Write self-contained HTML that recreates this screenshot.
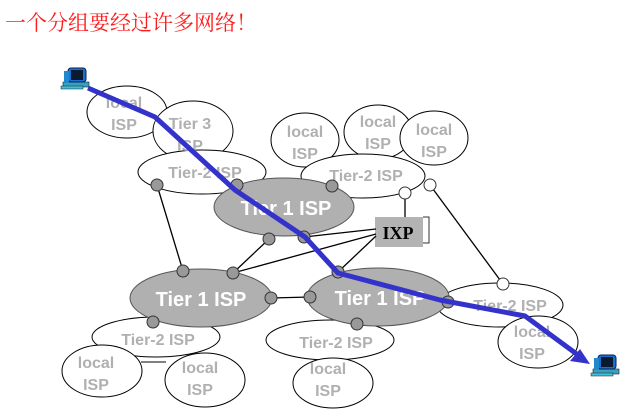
<!DOCTYPE html>
<html><head><meta charset="utf-8"><style>
html,body{margin:0;padding:0;background:#fff;width:627px;height:409px;overflow:hidden}
</style></head><body>
<svg width="627" height="409" viewBox="0 0 627 409" xmlns="http://www.w3.org/2000/svg">
<defs>
<g id="pc">
<rect x="2" y="16" width="26" height="5" fill="#3aa0c0" stroke="#123" stroke-width="0.6"/>
<rect x="7" y="2" width="18" height="14" rx="3" fill="#1a6fd0" stroke="#0a2050" stroke-width="1"/>
<rect x="10" y="4" width="12" height="10" fill="#0a1a30"/>
<rect x="3" y="5" width="5" height="12" fill="#2288cc"/>
<rect x="0" y="20" width="22" height="3" fill="#40c0d0" stroke="#123" stroke-width="0.5"/>
</g>
</defs>
<text x="5" y="30" font-family="'Liberation Serif','Noto Serif CJK SC',serif" font-size="21" fill="#ff1a1a">一个分组要经过许多网络！</text>

<g stroke="#000" stroke-width="1" fill="#fff">
<ellipse cx="127" cy="112" rx="40" ry="26"/>
<ellipse cx="193" cy="131" rx="40" ry="30"/>
<ellipse cx="202" cy="172" rx="64" ry="22"/>
<ellipse cx="305" cy="140" rx="34" ry="27"/>
<ellipse cx="378" cy="132" rx="34" ry="27"/>
<ellipse cx="434" cy="138" rx="34" ry="27"/>
<ellipse cx="363" cy="176" rx="62" ry="22"/>
<ellipse cx="284" cy="207" rx="70" ry="29" fill="#b0b0b0" stroke="#555"/>
<ellipse cx="156" cy="337" rx="64" ry="20"/>
<ellipse cx="102" cy="371" rx="40" ry="26"/>
<ellipse cx="205" cy="380" rx="40" ry="27"/>
<ellipse cx="330" cy="340" rx="64" ry="20"/>
<ellipse cx="333" cy="383" rx="40" ry="25"/>
<ellipse cx="500" cy="305" rx="63" ry="22"/>
<ellipse cx="538" cy="342" rx="40" ry="26"/>
<ellipse cx="201" cy="298" rx="71" ry="29" fill="#b0b0b0" stroke="#555"/>
<ellipse cx="378" cy="297" rx="71" ry="29" fill="#b0b0b0" stroke="#555"/>
</g>
<line x1="141" y1="362" x2="166" y2="362" stroke="#000"/>

<g font-family="'Liberation Sans',sans-serif" font-size="16" font-weight="600" fill="#b0b0b0" text-anchor="middle">
<text x="124" y="108">local</text><text x="124" y="130">ISP</text>
<text x="190" y="129">Tier 3</text><text x="190" y="151">ISP</text>
<text x="205" y="178">Tier-2 ISP</text>
<text x="305" y="137">local</text><text x="305" y="159">ISP</text>
<text x="378" y="127">local</text><text x="378" y="149">ISP</text>
<text x="434" y="135">local</text><text x="434" y="157">ISP</text>
<text x="366" y="181">Tier-2 ISP</text>
<text x="158" y="345">Tier-2 ISP</text>
<text x="96" y="368">local</text><text x="96" y="390">ISP</text>
<text x="200" y="373">local</text><text x="200" y="395">ISP</text>
<text x="336" y="348">Tier-2 ISP</text>
<text x="328" y="374">local</text><text x="328" y="396">ISP</text>
<text x="510" y="311">Tier-2 ISP</text>
<text x="532" y="337">local</text><text x="532" y="359">ISP</text>
</g>
<g font-family="'Liberation Sans',sans-serif" font-size="20" font-weight="bold" fill="#fff" text-anchor="middle">
<text x="286" y="215">Tier 1 ISP</text>
<text x="201" y="306">Tier 1 ISP</text>
<text x="380" y="305">Tier 1 ISP</text>
</g>

<rect x="375" y="217" width="48" height="30" fill="#b3b3b3"/>
<polyline points="423,217 429,217 429,243 423,243" fill="none" stroke="#333"/>
<text x="398" y="239" font-family="'Liberation Serif',serif" font-size="18" font-weight="bold" text-anchor="middle">IXP</text>

<g stroke="#000" stroke-width="1.3" fill="none">
<line x1="157" y1="185" x2="183" y2="271"/>
<line x1="269" y1="239" x2="233" y2="273"/>
<line x1="233" y1="273" x2="376" y2="234"/>
<line x1="304" y1="237" x2="376" y2="229"/>
<line x1="376" y1="236" x2="338" y2="272"/>
<line x1="405" y1="193" x2="405" y2="217"/>
<line x1="430" y1="185" x2="503" y2="284"/>
<line x1="271" y1="298" x2="310" y2="297"/>
</g>
<g fill="#999" stroke="#333" stroke-width="1">
<circle cx="157" cy="185" r="6"/><circle cx="237" cy="185" r="6"/>
<circle cx="269" cy="239" r="6"/><circle cx="304" cy="237" r="6"/>
<circle cx="183" cy="271" r="6"/><circle cx="233" cy="273" r="6"/>
<circle cx="338" cy="272" r="6"/><circle cx="271" cy="298" r="6"/>
<circle cx="310" cy="297" r="6"/><circle cx="332" cy="186" r="6"/>
<circle cx="448" cy="302" r="6"/><circle cx="153" cy="322" r="6"/>
<circle cx="357" cy="324" r="6"/>
</g>
<g fill="#fff" stroke="#333" stroke-width="1">
<circle cx="405" cy="193" r="6"/><circle cx="430" cy="185" r="6"/><circle cx="503" cy="284" r="6"/>
</g>

<polyline points="88,88 155,117 235,190 305,237 338,273 440,300 525,316 578,355" fill="none" stroke="#3333cc" stroke-width="5" stroke-linejoin="round"/>
<polygon points="590,364 570,361 580,349" fill="#3333cc"/>

<use href="#pc" x="61" y="66"/>
<use href="#pc" x="591" y="353"/>
</svg>
</body></html>
